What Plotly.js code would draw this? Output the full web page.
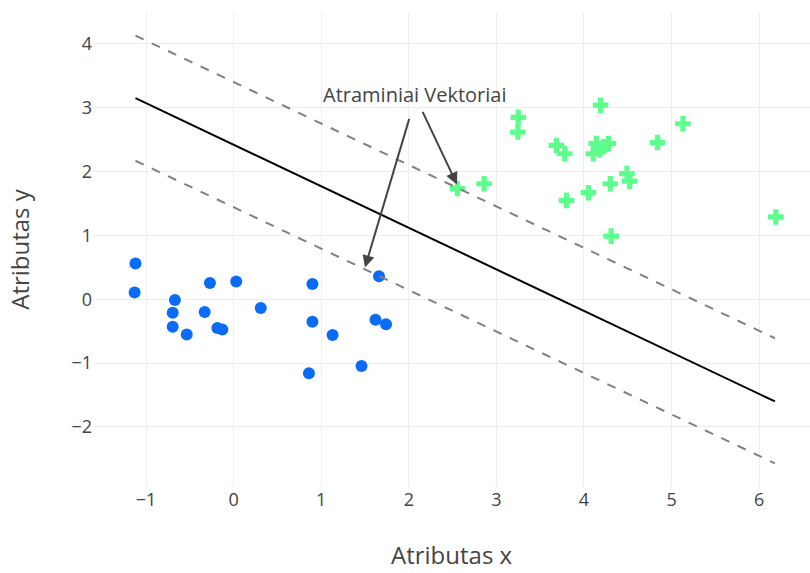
<!DOCTYPE html>
<html><head><meta charset="utf-8">
<script src="https://cdn.plot.ly/plotly-3.0.1.min.js"></script>
<style>body{margin:0;}#chart{width:810px;height:573px;}</style>
</head><body><div id="chart"></div>
<script>
const blueX = [-1.12,-1.13,-0.67,-0.695,-0.695,-0.535,-0.27,-0.33,-0.185,-0.128,0.03,0.31,0.90,0.90,0.86,1.13,1.46,1.66,1.62,1.74];
const blueY = [0.56,0.105,-0.01,-0.21,-0.43,-0.55,0.255,-0.20,-0.45,-0.475,0.28,-0.135,0.24,-0.35,-1.16,-0.56,-1.045,0.36,-0.32,-0.39];
const greenX = [4.19,3.25,3.245,5.13,3.685,3.78,4.84,4.106,4.14,4.22,4.28,4.18,2.555,2.86,3.80,4.05,4.30,4.49,4.52,4.31,6.19];
const greenY = [3.04,2.85,2.62,2.75,2.41,2.28,2.455,2.28,2.44,2.39,2.44,2.34,1.735,1.81,1.55,1.67,1.81,1.97,1.85,0.99,1.29];
const lineX = [-1.12, 6.18];
const boundaryY = [3.15, -1.60];
const upperY = [4.13, -0.61];
const lowerY = [2.17, -2.57];
const annText = "Atraminiai Vektoriai";
const xTitle = "Atributas x";
const yTitle = "Atributas y";

const traces = [
  {x: blueX, y: blueY, mode: 'markers', type: 'scatter', marker: {color: '#0a6cf5', size: 12, symbol: 'circle'}},
  {x: greenX, y: greenY, mode: 'markers', type: 'scatter', marker: {color: '#5cff8c', size: 13, symbol: 'cross'}},
  {x: lineX, y: boundaryY, mode: 'lines', type: 'scatter', line: {color: '#000', width: 2}},
  {x: lineX, y: upperY, mode: 'lines', type: 'scatter', line: {color: '#808080', width: 2, dash: 'dash'}},
  {x: lineX, y: lowerY, mode: 'lines', type: 'scatter', line: {color: '#808080', width: 2, dash: 'dash'}}
];

const layout = {
  width: 810, height: 573,
  margin: {l: 93, r: 0, t: 12, b: 86},
  showlegend: false,
  paper_bgcolor: '#fff', plot_bgcolor: '#fff',
  font: {family: '"Open Sans", sans-serif', color: '#444'},
  xaxis: {range: [-1.605, 6.58], dtick: 1, showgrid: true, gridcolor: '#eeeeee', zeroline: false, showline: false,
          tickfont: {size: 18, color: '#444'}},
  yaxis: {range: [-2.94, 4.5], dtick: 1, showgrid: true, gridcolor: '#eeeeee', zeroline: false, showline: false,
          tickfont: {size: 18, color: '#444'}, title: {text: yTitle, font: {size: 24, color: '#444'}, standoff: 35}},
  annotations: [
    {x: 0.5, y: -0.143, xref: 'paper', yref: 'paper', xanchor: 'center', yanchor: 'middle', text: xTitle,
     showarrow: false, borderpad: 0, font: {size: 24, color: '#444'}},
    {x: 2.07, y: 3.21, xref: 'x', yref: 'y', text: annText, showarrow: false, font: {size: 20, color: '#444'}},
    {x: 1.50, y: 0.50, xref: 'x', yref: 'y', ax: 2.01, ay: 2.85, axref: 'x', ayref: 'y', text: '', showarrow: true,
     arrowhead: 2, arrowsize: 1.2, arrowwidth: 2, arrowcolor: '#444'},
    {x: 2.55, y: 1.80, xref: 'x', yref: 'y', ax: 2.15, ay: 2.96, axref: 'x', ayref: 'y', text: '', showarrow: true,
     arrowhead: 2, arrowsize: 1.2, arrowwidth: 2, arrowcolor: '#444'}
  ]
};
Plotly.newPlot('chart', traces, layout, {displayModeBar: false, staticPlot: true});
</script></body></html>
